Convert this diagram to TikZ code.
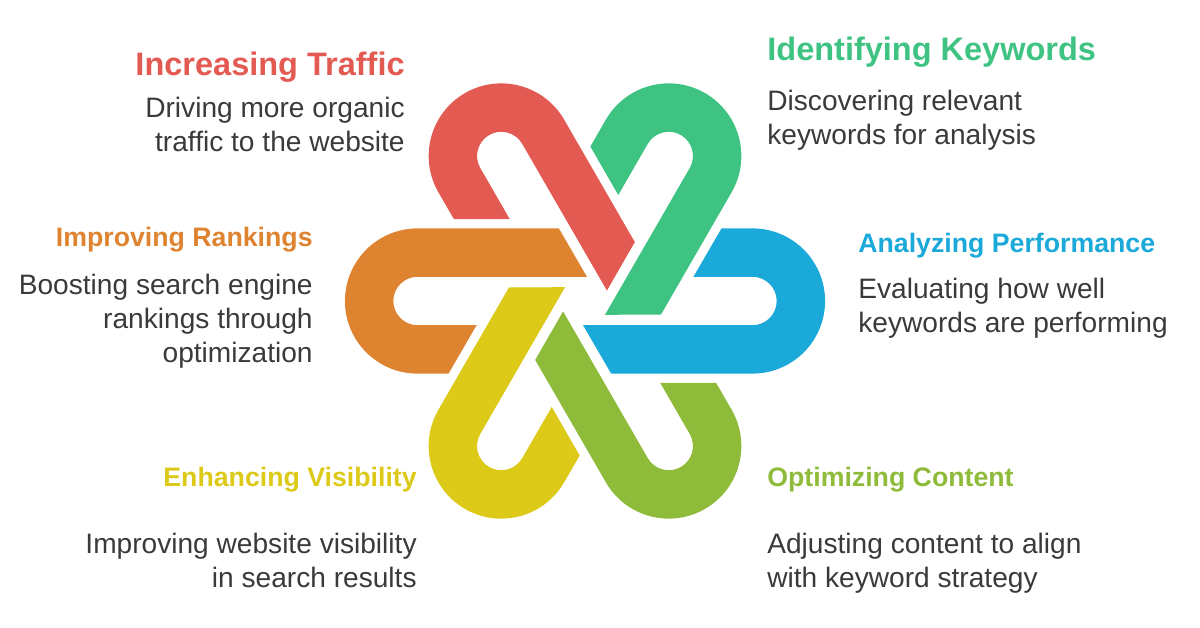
\documentclass[tikz,border=0pt]{standalone}
\usepackage{fontspec}
\setmainfont{Liberation Sans}
\usetikzlibrary{positioning}
\definecolor{cred}{HTML}{E35A52}
\definecolor{cgreen}{HTML}{3EC383}
\definecolor{cblue}{HTML}{1BA9D9}
\definecolor{clime}{HTML}{8FBB3A}
\definecolor{cyellow}{HTML}{DCC918}
\definecolor{corange}{HTML}{DE8431}
\definecolor{ctext}{HTML}{3A3A3A}
\tikzset{
  title/.style={font=\fontsize{18.5}{20}\selectfont\bfseries, inner sep=0pt},
  subtitle/.style={font=\fontsize{15.2}{18}\selectfont\bfseries, inner sep=0pt},
  body/.style={font=\fontsize{16}{19.4}\selectfont, text=ctext, inner sep=0pt},
}
% one hairpin band, loop pointing along +x
\newcommand{\hairpin}[2]{%
  \fill[#2, rotate=#1] (112,25) -- (173,25) arc (90:-90:25) -- (-2,-25) -- (27,-75)
    -- (173,-75) arc (-90:90:75) -- (141,75) -- cycle;}
\begin{document}
\begin{tikzpicture}[x=0.02cm, y=-0.02cm]
    \useasboundingbox (0,0) rectangle (1200,628);
    \begin{scope}[shift={(585,301)}, y=0.02cm, scale=0.968]
        \hairpin{0}{cblue}
        \hairpin{60}{cgreen}
        \hairpin{120}{cred}
        \hairpin{180}{corange}
        \hairpin{240}{cyellow}
        \hairpin{300}{clime}
    \end{scope}
    % labels
    \node[title, text=cred, anchor=east] (traffic) at (405,67) {Increasing Traffic};
    \node[body, align=right, anchor=north east] (traffic-text) at (405,97) {Driving more organic\\traffic to the website};
    \node[title, text=cgreen, anchor=west] (keywords) at (767,52) {Identifying Keywords};
    \node[body, align=left, anchor=north west] (keywords-text) at (767,90) {Discovering relevant\\keywords for analysis};
    \node[subtitle, text=corange, anchor=east] (rankings) at (313,240) {Improving Rankings};
    \node[body, align=right, anchor=north east] (rankings-text) at (313,274) {Boosting search engine\\rankings through\\optimization};
    \node[subtitle, text=cblue, anchor=west] (performance) at (858,246) {Analyzing Performance};
    \node[body, align=left, anchor=north west] (performance-text) at (858,278) {Evaluating how well\\keywords are performing};
    \node[subtitle, text=cyellow, anchor=east] (visibility) at (417,480) {Enhancing Visibility};
    \node[body, align=right, anchor=north east] (visibility-text) at (417,533) {Improving website visibility\\in search results};
    \node[subtitle, text=clime, anchor=west] (content) at (767,480) {Optimizing Content};
    \node[body, align=left, anchor=north west] (content-text) at (767,533) {Adjusting content to align\\with keyword strategy};
\end{tikzpicture}
\end{document}
